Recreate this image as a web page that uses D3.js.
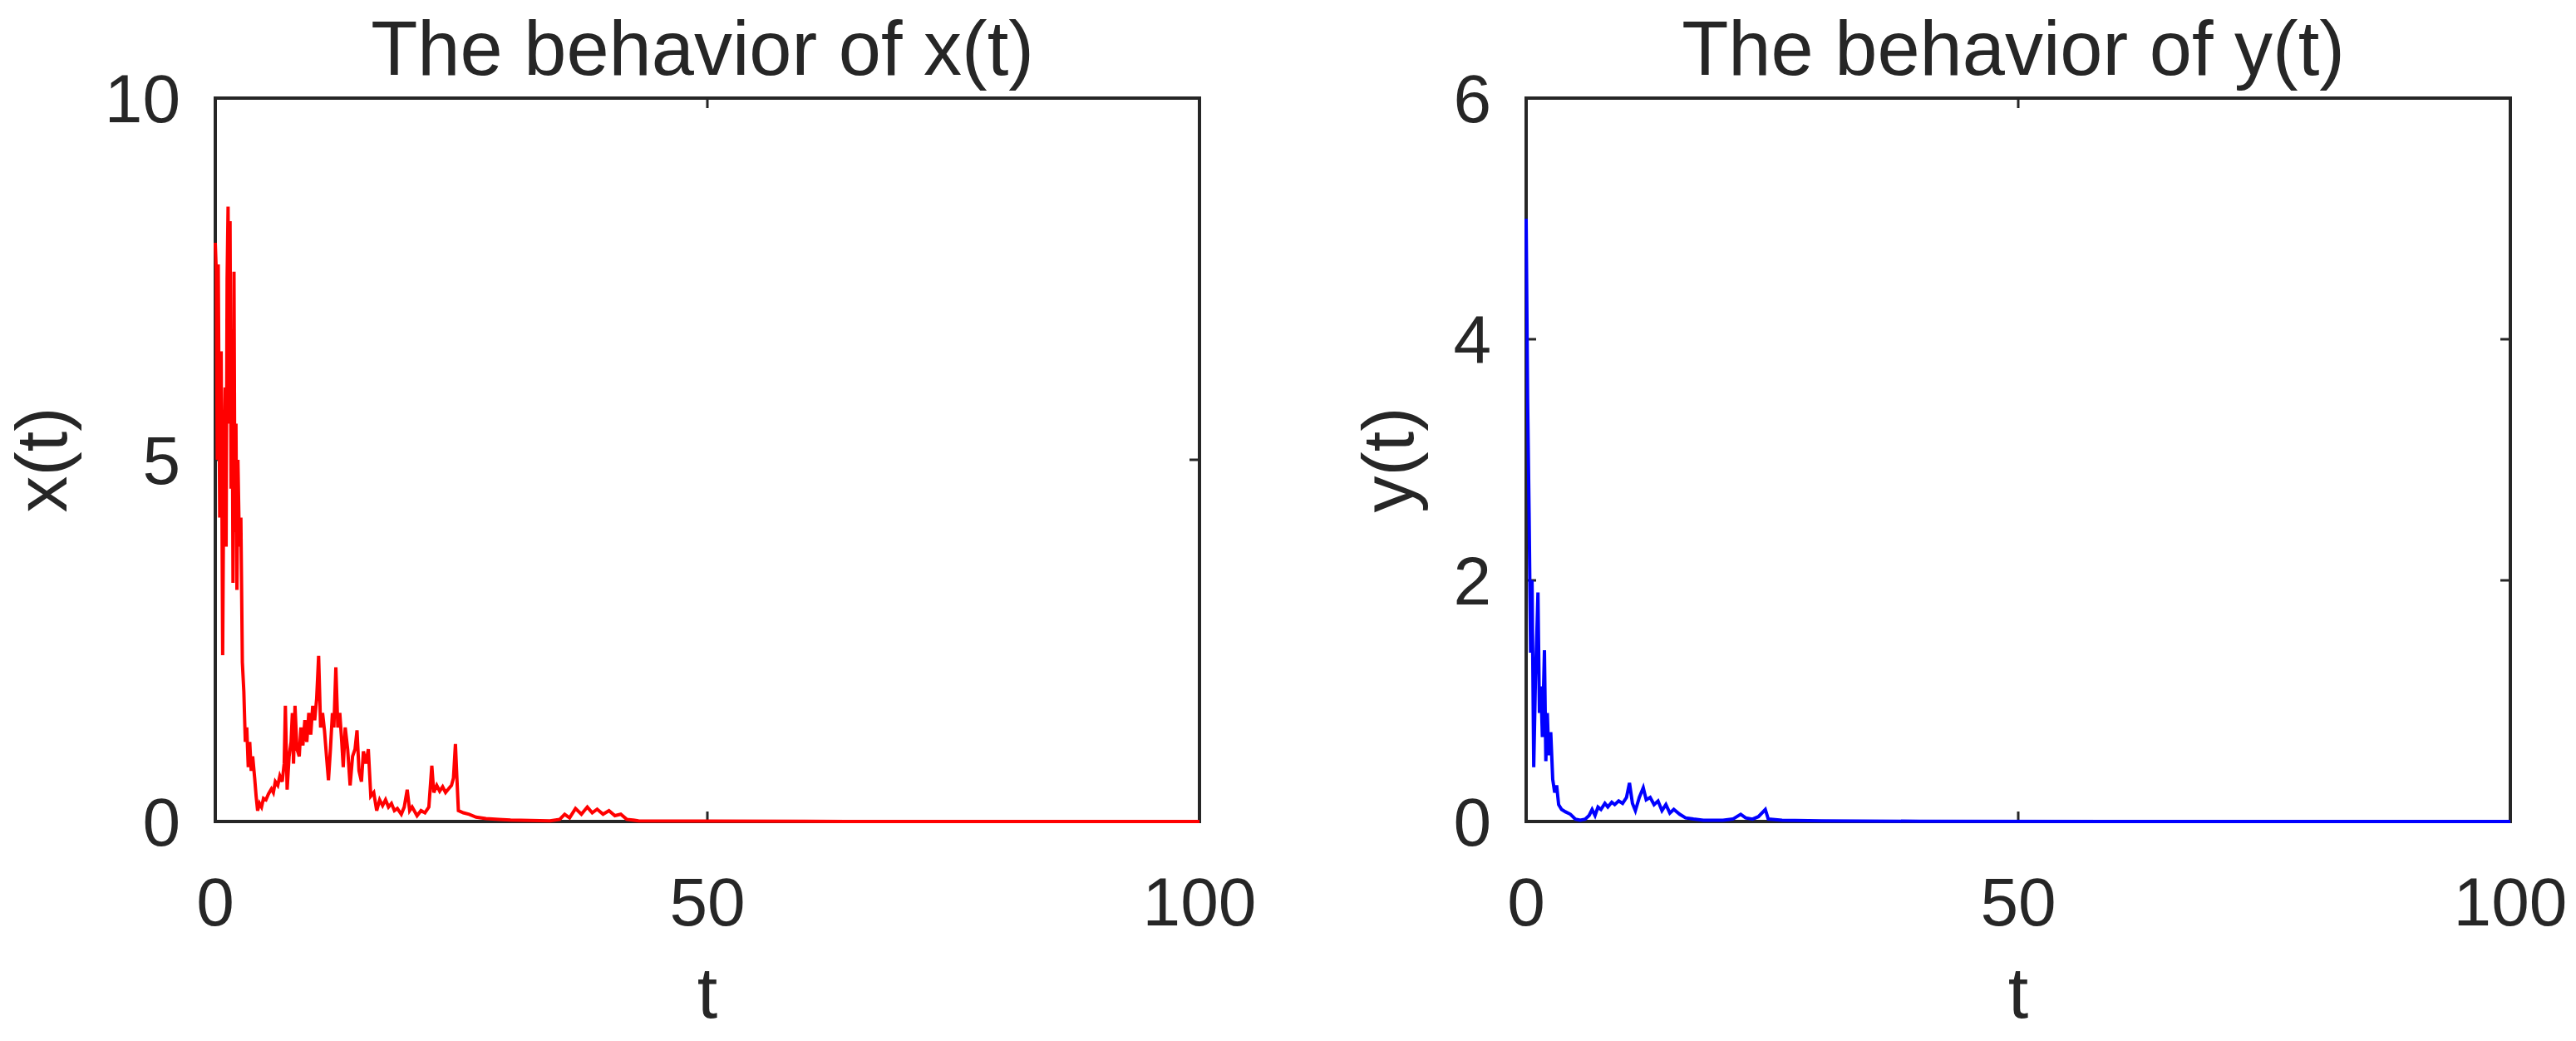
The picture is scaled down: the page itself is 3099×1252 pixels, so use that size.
<!DOCTYPE html>
<html>
<head>
<meta charset="utf-8">
<script src="https://cdn.jsdelivr.net/npm/d3@7"></script>
<style>
  html, body { margin: 0; padding: 0; background: #fff; }
  svg { display: block; }
  text { font-family: "Liberation Sans", Arial, Helvetica, sans-serif; fill: #262626; }
</style>
</head>
<body>
<svg id="chart" width="3099" height="1252"></svg>
<script>
// ---------- data ----------
const xTitle = "The behavior of x(t)";
const yTitle = "The behavior of y(t)";
const xAxisLabel = "t";
const leftYLabel = "x(t)";
const rightYLabel = "y(t)";

const tTicks = [0, 50, 100];
const xValueTicks = [0, 5, 10];
const yValueTicks = [0, 2, 4, 6];

const xTimes = [0, 0.1, 0.2, 0.3, 0.45, 0.6, 0.75, 0.85, 1.0, 1.1, 1.2, 1.3, 1.4, 1.5, 1.6, 1.7, 1.8, 1.9, 2.0, 2.1,
  2.2, 2.3, 2.45, 2.6, 2.75, 2.9, 3.05, 3.2, 3.35, 3.5, 3.65, 3.8, 4.0, 4.15, 4.3, 4.5, 4.7, 4.9, 5.15, 5.4,
  5.7, 5.9, 6.1, 6.35, 6.56, 6.8, 7.0, 7.12, 7.3, 7.5, 7.7, 7.83, 7.95, 8.1, 8.3, 8.53, 8.7, 8.9, 9.1, 9.3,
  9.5, 9.7, 9.9, 10.1, 10.3, 10.5, 10.7, 10.9, 11.1, 11.3, 11.5, 11.7, 11.9, 12.05, 12.25, 12.45, 12.65, 12.85, 13.0, 13.2,
  13.45, 13.7, 13.95, 14.2, 14.4, 14.6, 14.85, 15.05, 15.3, 15.55, 15.8, 16.1, 16.4, 16.7, 17.0, 17.3, 17.6, 17.9, 18.2, 18.5,
  18.9, 19.2, 19.5, 19.75, 20.0, 20.5, 20.9, 21.3, 21.7, 22.0, 22.2, 22.5, 22.8, 23.1, 23.4, 23.7, 24.0, 24.2, 24.4, 24.55,
  24.7, 25.2, 25.8, 26.5, 27.5, 28.8, 30, 32, 34, 35, 35.5, 36, 36.6, 37.2, 37.8, 38.3, 38.8, 39.4, 40.0, 40.6,
  41.2, 41.8, 43, 50, 60, 70, 80, 90, 100];
const xValues = [8.0, 7.6, 5.0, 7.7, 4.2, 6.5, 2.3, 4.5, 6.0, 3.8, 7.5, 8.5, 5.5, 8.3, 4.6, 6.8, 3.3, 7.6, 4.0, 5.5,
  3.2, 5.0, 3.8, 4.2, 2.2, 1.8, 1.1, 1.3, 0.75, 1.1, 0.7, 0.9, 0.6, 0.35, 0.15, 0.25, 0.2, 0.32, 0.3, 0.38,
  0.45, 0.4, 0.55, 0.5, 0.63, 0.55, 0.8, 1.6, 0.44, 0.9, 1.1, 1.5, 0.8, 1.6, 1.0, 0.9, 1.3, 1.05, 1.4, 1.1,
  1.5, 1.2, 1.6, 1.4, 1.7, 2.29, 1.3, 1.5, 1.25, 0.9, 0.57, 1.0, 1.5, 1.3, 2.13, 1.3, 1.5, 1.1, 0.75, 1.3,
  1.0, 0.5, 0.9, 1.0, 1.26, 0.7, 0.55, 0.97, 0.8, 1.0, 0.35, 0.4, 0.15, 0.3, 0.22, 0.3, 0.2, 0.25, 0.15, 0.18,
  0.1, 0.2, 0.44, 0.15, 0.2, 0.08, 0.15, 0.12, 0.2, 0.77, 0.4, 0.5, 0.42, 0.48, 0.4, 0.45, 0.5, 0.6, 1.07, 0.6,
  0.15, 0.12, 0.1, 0.06, 0.04, 0.03, 0.02, 0.015, 0.01, 0.03, 0.1, 0.05, 0.18, 0.1, 0.2, 0.12, 0.17, 0.1, 0.15, 0.08,
  0.1, 0.03, 0.01, 0.005, 0.002, 0, 0, 0, 0];

const yTimes = [0, 0.15, 0.3, 0.45, 0.6, 0.77, 0.95, 1.1, 1.2, 1.35, 1.5, 1.65, 1.86, 2.0, 2.15, 2.3, 2.5, 2.7, 2.9, 3.1,
  3.3, 3.6, 4.0, 4.5, 5.0, 5.5, 6.0, 6.4, 6.7, 7.0, 7.3, 7.6, 8.0, 8.3, 8.7, 9.0, 9.4, 9.8, 10.2, 10.5,
  10.8, 11.1, 11.5, 11.9, 12.2, 12.6, 13.0, 13.4, 13.8, 14.2, 14.6, 15.0, 15.6, 16.2, 17, 18, 19, 20, 21, 21.8,
  22.3, 23, 23.6, 24.3, 24.6, 26, 30, 40, 60, 80, 100];
const yValues = [5.0, 3.5, 2.56, 1.4, 2.0, 0.45, 1.2, 1.6, 1.9, 0.9, 1.12, 0.7, 1.42, 0.5, 0.9, 0.55, 0.74, 0.35, 0.24, 0.3,
  0.14, 0.1, 0.08, 0.06, 0.02, 0.01, 0.02, 0.05, 0.1, 0.05, 0.12, 0.1, 0.15, 0.12, 0.16, 0.14, 0.17, 0.15, 0.2, 0.32,
  0.15, 0.09, 0.2, 0.28, 0.18, 0.2, 0.14, 0.17, 0.09, 0.14, 0.07, 0.1, 0.06, 0.03, 0.02, 0.01, 0.01, 0.01, 0.02, 0.06,
  0.03, 0.02, 0.04, 0.1, 0.02, 0.01, 0.005, 0.002, 0, 0, 0];

// ---------- drawing ----------
const svg = d3.select("#chart");

const panels = [
  { left: 259, title: xTitle, ylabel: leftYLabel, ylabelX: 80, yMax: 10, yTicks: xValueTicks,
    times: xTimes, values: xValues, color: "#ff0000", tickAnchorOffset: 42 },
  { left: 1836, title: yTitle, ylabel: rightYLabel, ylabelX: 1700, yMax: 6, yTicks: yValueTicks,
    times: yTimes, values: yValues, color: "#0000ff", tickAnchorOffset: 42 }
];

const plotTop = 118, plotBottom = 988, plotWidth = 1184;
const tickLen = 12;

panels.forEach(p => {
  const right = p.left + plotWidth;
  const x = d3.scaleLinear().domain([0, 100]).range([p.left, right]);
  const y = d3.scaleLinear().domain([0, p.yMax]).range([plotBottom, plotTop]);
  const g = svg.append("g");

  const pts = p.times.map((t, i) => [t, p.values[i]]);
  const line = d3.line().x(d => x(d[0])).y(d => y(d[1]));

  // box
  g.append("rect")
    .attr("x", p.left).attr("y", plotTop)
    .attr("width", plotWidth).attr("height", plotBottom - plotTop)
    .attr("fill", "none").attr("stroke", "#262626").attr("stroke-width", 4);

  // ticks (inward, on all four sides)
  const tickStyle = sel => sel.attr("stroke", "#262626").attr("stroke-width", 3);
  tTicks.forEach(t => {
    g.append("line").attr("x1", x(t)).attr("x2", x(t)).attr("y1", plotBottom).attr("y2", plotBottom - tickLen).call(tickStyle);
    g.append("line").attr("x1", x(t)).attr("x2", x(t)).attr("y1", plotTop).attr("y2", plotTop + tickLen).call(tickStyle);
    g.append("text").attr("x", x(t)).attr("y", 1113)
      .attr("text-anchor", "middle").attr("font-size", 82).text(t);
  });
  p.yTicks.forEach(v => {
    g.append("line").attr("x1", p.left).attr("x2", p.left + tickLen).attr("y1", y(v)).attr("y2", y(v)).call(tickStyle);
    g.append("line").attr("x1", right).attr("x2", right - tickLen).attr("y1", y(v)).attr("y2", y(v)).call(tickStyle);
    g.append("text").attr("x", p.left - p.tickAnchorOffset).attr("y", y(v) + 29)
      .attr("text-anchor", "end").attr("font-size", 82).text(v);
  });

  // data line
  g.append("path").datum(pts)
    .attr("d", line)
    .attr("fill", "none").attr("stroke", p.color)
    .attr("stroke-width", 4).attr("stroke-linejoin", "miter");

  // title
  g.append("text").attr("x", (p.left + right) / 2 - 6).attr("y", 90)
    .attr("text-anchor", "middle").attr("font-size", 92).text(p.title);
  // x label
  g.append("text").attr("x", (p.left + right) / 2).attr("y", 1224)
    .attr("text-anchor", "middle").attr("font-size", 88).text(xAxisLabel);
  // y label
  g.append("text").attr("transform", `translate(${p.ylabelX},${(plotTop + plotBottom) / 2}) rotate(-90)`)
    .attr("text-anchor", "middle").attr("font-size", 88).text(p.ylabel);
});
</script>
</body>
</html>
